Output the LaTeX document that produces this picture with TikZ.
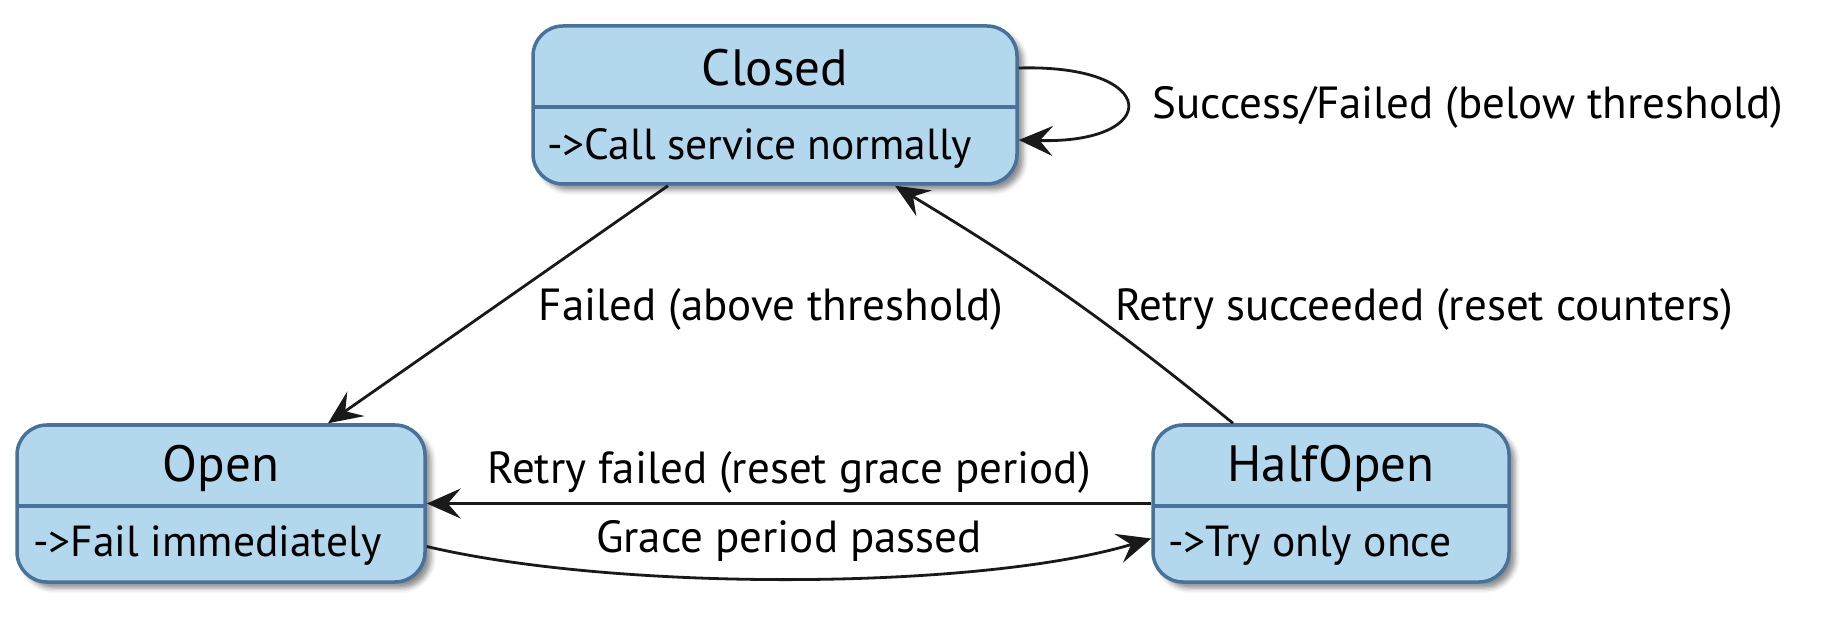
\documentclass[tikz,border=0pt]{standalone}
\usepackage{fontspec}
\setmainfont{PT Sans}
\usetikzlibrary{arrows.meta,shadows.blur,calc}
\definecolor{statefill}{HTML}{B3D7EC}
\definecolor{stateline}{HTML}{48729A}
\tikzset{
  statebox/.style={draw=stateline, line width=3.5pt, fill=statefill, rounded corners=30pt,
    blur shadow={shadow xshift=6pt, shadow yshift=-6pt, shadow blur radius=5pt, shadow opacity=45}},
  divider/.style={draw=stateline, line width=3.5pt},
  titletext/.style={font=\fontsize{51}{60}\selectfont, inner sep=0pt},
  bodytext/.style={font=\fontsize{43.5}{52}\selectfont, inner sep=0pt, anchor=west},
  lbl/.style={font=\fontsize{45}{54}\selectfont, inner sep=0pt},
  edge/.style={draw=black!90, line width=2.8pt, -{Stealth[length=34pt,width=30pt,inset=13pt]}}
}
\begin{document}
\begin{tikzpicture}[x=1pt,y=-1pt]
\useasboundingbox (0,0) rectangle (1826,617);
% states
\node[statebox, minimum width=484pt, minimum height=158pt] (closed) at (775,105) {};
\node[statebox, minimum width=408pt, minimum height=157pt] (open) at (221,503.5) {};
\node[statebox, minimum width=356pt, minimum height=157pt] (halfopen) at (1331,503.5) {};
\draw[divider] (533,107) -- (1017,107);
\draw[divider] (17,506) -- (425,506);
\draw[divider] (1153,506) -- (1509,506);
\node[titletext] (closedT) at (775,68) {Closed};
\node[bodytext] (closedB) at (547,148) {->Call service normally};
\node[titletext] (openT) at (221,468) {Open};
\node[bodytext] (openB) at (33,546) {->Fail immediately};
\node[titletext] (halfT) at (1331,468) {HalfOpen};
\node[bodytext] (halfB) at (1168,546) {->Try only once};
% edges
\draw[edge] ([yshift=37pt]closed.east) .. controls (1162,64) and (1162,144) .. ([yshift=-35pt]closed.east);
\node[lbl] (l1) at (1468,107) {Success/Failed (below threshold)};
\draw[edge] ([xshift=-107pt]closed.south) -- ([xshift=107pt]open.north);
\node[lbl] (l2) at (771,309) {Failed (above threshold)};
\draw[edge] ([xshift=-98pt]halfopen.north) to[bend right=4] ([xshift=120pt]closed.south);
\node[lbl] (l3) at (1424,309) {Retry succeeded (reset counters)};
\draw[edge] (halfopen.west) -- (open.east);
\node[lbl] (l4) at (789,472) {Retry failed (reset grace period)};
\draw[edge] ([yshift=-43pt]open.east) .. controls (620,592) and (980,590) .. ([yshift=-35pt]halfopen.west);
\node[lbl] (l5) at (789,541) {Grace period passed};
\end{tikzpicture}
\end{document}
